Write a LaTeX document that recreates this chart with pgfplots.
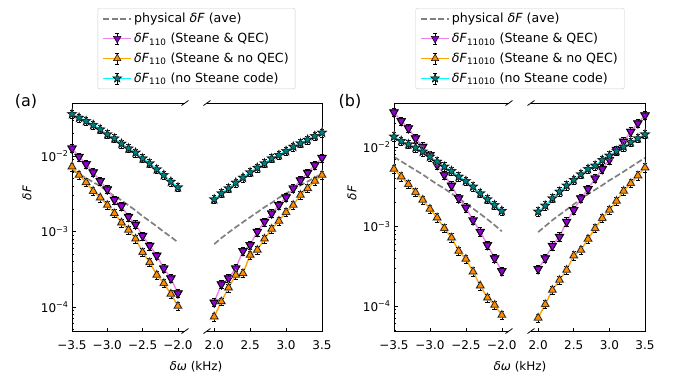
\documentclass[border=0pt]{standalone}
\usepackage{fontspec}
\setmainfont{DejaVu Sans}
\usepackage{pgfplots}
\usepackage{pgfplotstable}
\pgfplotsset{compat=1.18}

\definecolor{cpurp}{HTML}{9400D3}
\definecolor{cviol}{HTML}{EE82EE}
\definecolor{corgm}{HTML}{FF8C00}
\definecolor{corgl}{HTML}{FFA500}
\definecolor{cteal}{HTML}{008080}
\definecolor{ccyan}{HTML}{00FFFF}
\definecolor{cgray}{HTML}{808080}
\definecolor{chalo}{HTML}{A8A8A8}
\definecolor{cframe}{HTML}{CCCCCC}

\pgfdeclareplotmark{fstar}{%
  \pgfpathmoveto{\pgfpointpolar{90}{\pgfplotmarksize}}%
  \pgfpathlineto{\pgfpointpolar{126}{0.42*\pgfplotmarksize}}%
  \pgfpathlineto{\pgfpointpolar{162}{\pgfplotmarksize}}%
  \pgfpathlineto{\pgfpointpolar{198}{0.42*\pgfplotmarksize}}%
  \pgfpathlineto{\pgfpointpolar{234}{\pgfplotmarksize}}%
  \pgfpathlineto{\pgfpointpolar{270}{0.42*\pgfplotmarksize}}%
  \pgfpathlineto{\pgfpointpolar{306}{\pgfplotmarksize}}%
  \pgfpathlineto{\pgfpointpolar{342}{0.42*\pgfplotmarksize}}%
  \pgfpathlineto{\pgfpointpolar{18}{\pgfplotmarksize}}%
  \pgfpathlineto{\pgfpointpolar{54}{0.42*\pgfplotmarksize}}%
  \pgfpathclose
  \pgfusepathqfillstroke}

% panel (a), left part
\pgfplotstableread{
x     p        o        c        g
-3.5  0.01264  0.00723  0.0360   0.0065
-3.4  0.0098   0.0056   0.0322   0.0058
-3.3  0.00783  0.00448  0.0291   0.0051
-3.2  0.00608  0.00343  0.0258   0.0045
-3.1  0.00467  0.00281  0.0225   0.0040
-3.0  0.00362  0.00224  0.0194   0.0034
-2.9  0.00264  0.00174  0.0171   0.00295
-2.8  0.00218  0.00131  0.0146   0.0026
-2.7  0.00157  0.00105  0.0126   0.00222
-2.6  0.00124  0.00080  0.0111   0.0019
-2.5  0.00088  0.00053  0.0093   0.0016
-2.4  0.00065  0.00039  0.0080   0.00137
-2.3  0.00048  0.000266 0.00666  0.00117
-2.2  0.000325 0.000206 0.00560  0.00099
-2.1  0.00024  0.000149 0.00457  0.00085
-2.0  0.000152 0.000103 0.00385  0.00072
}\tAL
% panel (a), right part
\pgfplotstableread{
x     p        o        c        g
2.0   0.000115 0.0000745 0.00267 0.00068
2.1   0.000200 0.000118 0.00321  0.00082
2.2   0.000240 0.000180 0.00373  0.00097
2.3   0.000325 0.000266 0.00444  0.00114
2.4   0.000552 0.000279 0.00517  0.00133
2.5   0.000662 0.000489 0.00608  0.00155
2.6   0.000995 0.000569 0.0070   0.0018
2.7   0.00135  0.00080  0.0080   0.0021
2.8   0.00174  0.00108  0.0093   0.0024
2.9   0.00224  0.00138  0.0103   0.0028
3.0   0.00284  0.00180  0.01164  0.0032
3.1   0.00373  0.00224  0.0133   0.0036
3.2   0.00477  0.00304  0.01473  0.0041
3.3   0.00602  0.00373  0.01645  0.0046
3.4   0.0076   0.00467  0.0184   0.0052
3.5   0.0095   0.0056   0.0204   0.0058
}\tAR
% panel (b), left part
\pgfplotstableread{
x     p        o        c        g
-3.5  0.0273   0.00528  0.01349  0.0075
-3.4  0.0212   0.00423  0.0119   0.0066
-3.3  0.0172   0.00339  0.0108   0.0058
-3.2  0.01285  0.00269  0.0098   0.0051
-3.1  0.0101   0.00216  0.00874  0.0045
-3.0  0.00793  0.00166  0.00755  0.0039
-2.9  0.00594  0.00129  0.00653  0.0034
-2.8  0.00445  0.000948 0.00566  0.0030
-2.7  0.00327  0.000723 0.00499  0.0026
-2.6  0.00226  0.000492 0.00423  0.00225
-2.5  0.00173  0.00039  0.00373  0.00195
-2.4  0.00120  0.00027  0.00317  0.00168
-2.3  0.00086  0.00018  0.00261  0.00144
-2.2  0.000585 0.000127 0.0022   0.00123
-2.1  0.000398 0.000103 0.00186  0.00104
-2.0  0.000275 0.000077 0.00157  0.00087
}\tBL
% panel (b), right part
\pgfplotstableread{
x     p        o        c        g
2.0   0.000292 0.000071 0.00154  0.00085
2.1   0.000398 0.000105 0.00183  0.00101
2.2   0.000574 0.000159 0.00226  0.0012
2.3   0.000745 0.000212 0.00274  0.0014
2.4   0.00115  0.000284 0.00327  0.00163
2.5   0.00161  0.00043  0.00385  0.0019
2.6   0.00226  0.000506 0.00453  0.0022
2.7   0.00296  0.000697 0.00528  0.00255
2.8   0.00403  0.000948 0.00582  0.0029
2.9   0.00528  0.00127  0.00686  0.0033
3.0   0.0069   0.00161  0.00778  0.0038
3.1   0.0092   0.00209  0.00891  0.0043
3.2   0.0117   0.0028   0.0101   0.0049
3.3   0.0156   0.00349  0.01146  0.0056
3.4   0.0199   0.00436  0.01285  0.0064
3.5   0.0250   0.0055   0.0144   0.0073
}\tBR

\newcommand{\fs}{\fontsize{12}{14}\selectfont}
\newcommand{\fl}{\fontsize{12.6}{15}\selectfont}

\pgfplotsset{
  zzsub/.style={
    scale only axis, height=228pt, clip=false,
    axis line style={draw=none},
    tick style={black, line width=0.6pt},
    major tick length=3.5pt, minor tick length=2pt,
    tick align=inside, xtick pos=left, ytick pos=left,
    every tick label/.append style={font=\fs},
    xticklabel style={yshift=-6pt},
    ytick={1e-4,1e-3,1e-2},
    yticklabels={10\textsuperscript{−4},10\textsuperscript{−3},10\textsuperscript{−2}},
    minor ytick={5e-5,6e-5,7e-5,8e-5,9e-5,2e-4,3e-4,4e-4,5e-4,6e-4,7e-4,8e-4,9e-4,2e-3,3e-3,4e-3,5e-3,6e-3,7e-3,8e-3,9e-3,2e-2,3e-2,4e-2},
  },
  zzleft/.style={zzsub, xmin=-3.5, xmax=-1.9,
    xtick={-3.5,-3,-2.5,-2}, xticklabels={−3.5,−3.0,−2.5,−2.0}},
  zzright/.style={zzsub, xmin=1.9, xmax=3.5,
    xtick={2,2.5,3,3.5}, xticklabels={2.0,2.5,3.0,3.5},
    ytick=\empty, yticklabels={}, minor ytick={}, yminorticks=false},
  zzebar/.style={error bars/.cd, y dir=both, y fixed relative=0.12,
    error bar style={black, line width=0.6pt, solid},
    error mark options={rotate=90, black, mark size=2.2pt, line width=0.6pt, solid}},
  zzebleg/.style={legend image code/.code={
    \draw[##1, mark=none] (0pt,0pt) -- (28pt,0pt);
    \draw[black, line width=0.6pt, solid] (14pt,-5.5pt) -- (14pt,5.5pt)
       (12pt,-5.5pt) -- (16pt,-5.5pt) (12pt,5.5pt) -- (16pt,5.5pt);
    \draw[##1] plot coordinates {(14pt,0pt)};
  }},
  zzdashleg/.style={legend image code/.code={
    \draw[##1] (0pt,0pt) -- (28pt,0pt);
  }},
  zzgray/.style={cgray, line width=1.7pt, dash pattern=on 6pt off 2.6pt, no marks},
  zzpurp/.style={cviol, line width=1.4pt, mark=triangle*, mark size=4.3pt,
    mark options={rotate=180, fill=cpurp, draw=black, line width=0.5pt, solid}},
  zzorng/.style={corgl, line width=1.4pt, mark=triangle*, mark size=4.3pt,
    mark options={fill=corgm, draw=black, line width=0.5pt, solid}},
  zzcyan/.style={ccyan, line width=1.4pt, mark=fstar, mark size=4.6pt,
    mark options={fill=cteal, draw=black, line width=0.5pt, solid}},
  zzhalo/.style={forget plot, only marks, mark size=#1,
    mark options={fill=chalo, draw=chalo, line width=0.4pt, solid}},
  zzleg/.style={legend style={at={(axis description cs:#1,1.061)}, anchor=south,
    draw=cframe, rounded corners=2pt, font=\fl,
    row sep=4.8pt, inner xsep=4.5pt, inner ysep=3pt,
    /tikz/every even column/.append style={column sep=3pt}},
    legend cell align=left},
}

\newcommand{\spinesL}{%
  \draw[line width=0.8pt] (rel axis cs:1,1) -- (rel axis cs:0,1) -- (rel axis cs:0,0) -- (rel axis cs:1,0);
  \draw[line width=0.8pt] ([xshift=-3.5pt,yshift=-2.5pt]rel axis cs:1,1) -- ([xshift=3.5pt,yshift=2.5pt]rel axis cs:1,1);
  \draw[line width=0.8pt] ([xshift=-3.5pt,yshift=-2.5pt]rel axis cs:1,0) -- ([xshift=3.5pt,yshift=2.5pt]rel axis cs:1,0);
}
\newcommand{\spinesR}{%
  \draw[line width=0.8pt] (rel axis cs:0,1) -- (rel axis cs:1,1) -- (rel axis cs:1,0) -- (rel axis cs:0,0);
  \draw[line width=0.8pt] ([xshift=-3.5pt,yshift=-2.5pt]rel axis cs:0,1) -- ([xshift=3.5pt,yshift=2.5pt]rel axis cs:0,1);
  \draw[line width=0.8pt] ([xshift=-3.5pt,yshift=-2.5pt]rel axis cs:0,0) -- ([xshift=3.5pt,yshift=2.5pt]rel axis cs:0,0);
}

\begin{document}
\begin{tikzpicture}
\path[use as bounding box] (0pt,0pt) rectangle (677pt,-383pt);

%================ panel (a) =================
\begin{semilogyaxis}[zzleft, at={(72pt,-331pt)}, anchor=south west, width=113pt,
  ymin=4.81e-5, ymax=0.0504, zzleg=1.102]
\addplot[zzgray, zzdashleg] table[x=x,y=g]{\tAL};
\addlegendentry{physical \textit{δF} (ave)}
\addplot[zzhalo=5.3pt, mark=triangle*, mark options={rotate=180}] table[x=x,y=p]{\tAL};
\addplot[zzpurp, zzebleg, zzebar] table[x=x,y=p]{\tAL};
\addlegendentry{\textit{δF}\textsubscript{110} (Steane \& QEC)}
\addplot[zzhalo=5.3pt, mark=triangle*] table[x=x,y=o]{\tAL};
\addplot[zzorng, zzebleg, zzebar] table[x=x,y=o]{\tAL};
\addlegendentry{\textit{δF}\textsubscript{110} (Steane \& no QEC)}
\addplot[zzhalo=5.5pt, mark=fstar] table[x=x,y=c]{\tAL};
\addplot[zzcyan, zzebleg, zzebar] table[x=x,y=c]{\tAL};
\addlegendentry{\textit{δF}\textsubscript{110} (no Steane code)}
\spinesL
\end{semilogyaxis}
\begin{semilogyaxis}[zzright, at={(207pt,-331pt)}, anchor=south west, width=115pt,
  ymin=4.81e-5, ymax=0.0504]
\addplot[zzgray] table[x=x,y=g]{\tAR};
\addplot[zzhalo=5.3pt, mark=triangle*, mark options={rotate=180}] table[x=x,y=p]{\tAR};
\addplot[zzpurp, zzebar] table[x=x,y=p]{\tAR};
\addplot[zzhalo=5.3pt, mark=triangle*] table[x=x,y=o]{\tAR};
\addplot[zzorng, zzebar] table[x=x,y=o]{\tAR};
\addplot[zzhalo=5.5pt, mark=fstar] table[x=x,y=c]{\tAR};
\addplot[zzcyan, zzebar] table[x=x,y=c]{\tAR};
\spinesR
\end{semilogyaxis}
\node[font=\fontsize{16}{19}\selectfont] at (26pt,-101pt) {(a)};
\node[font=\fs, rotate=90] at (27pt,-193pt) {\textit{δF}};
\node[font=\fs] at (196pt,-367pt) {\textit{δω} (kHz)};

%================ panel (b) =================
\begin{semilogyaxis}[zzleft, at={(394pt,-331pt)}, anchor=south west, width=115pt,
  ymin=4.85e-5, ymax=0.0357, zzleg=1.0957]
\addplot[zzgray, zzdashleg] table[x=x,y=g]{\tBL};
\addlegendentry{physical \textit{δF} (ave)}
\addplot[zzhalo=5.3pt, mark=triangle*, mark options={rotate=180}] table[x=x,y=p]{\tBL};
\addplot[zzpurp, zzebleg, zzebar] table[x=x,y=p]{\tBL};
\addlegendentry{\textit{δF}\textsubscript{11010} (Steane \& QEC)}
\addplot[zzhalo=5.3pt, mark=triangle*] table[x=x,y=o]{\tBL};
\addplot[zzorng, zzebleg, zzebar] table[x=x,y=o]{\tBL};
\addlegendentry{\textit{δF}\textsubscript{11010} (Steane \& no QEC)}
\addplot[zzhalo=5.5pt, mark=fstar] table[x=x,y=c]{\tBL};
\addplot[zzcyan, zzebleg, zzebar] table[x=x,y=c]{\tBL};
\addlegendentry{\textit{δF}\textsubscript{11010} (no Steane code)}
\spinesL
\end{semilogyaxis}
\begin{semilogyaxis}[zzright, at={(531pt,-331pt)}, anchor=south west, width=114pt,
  ymin=4.85e-5, ymax=0.0357]
\addplot[zzgray] table[x=x,y=g]{\tBR};
\addplot[zzhalo=5.3pt, mark=triangle*, mark options={rotate=180}] table[x=x,y=p]{\tBR};
\addplot[zzpurp, zzebar] table[x=x,y=p]{\tBR};
\addplot[zzhalo=5.3pt, mark=triangle*] table[x=x,y=o]{\tBR};
\addplot[zzorng, zzebar] table[x=x,y=o]{\tBR};
\addplot[zzhalo=5.5pt, mark=fstar] table[x=x,y=c]{\tBR};
\addplot[zzcyan, zzebar] table[x=x,y=c]{\tBR};
\spinesR
\end{semilogyaxis}
\node[font=\fontsize{16}{19}\selectfont] at (350pt,-101pt) {(b)};
\node[font=\fs, rotate=90] at (352pt,-193pt) {\textit{δF}};
\node[font=\fs] at (520pt,-367pt) {\textit{δω} (kHz)};
\end{tikzpicture}
\end{document}
